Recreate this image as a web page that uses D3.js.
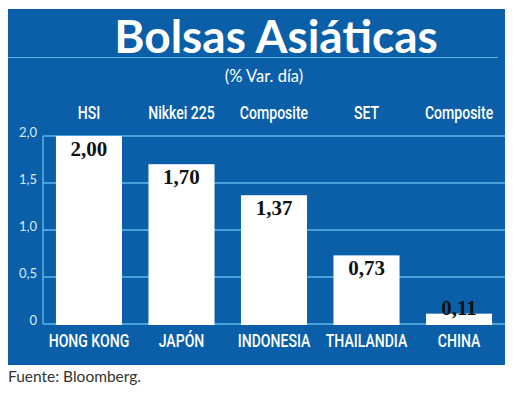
<!DOCTYPE html>
<html>
<head>
<meta charset="utf-8">
<script src="https://cdn.jsdelivr.net/npm/d3@7/dist/d3.min.js"></script>
<style>
  html, body { margin: 0; padding: 0; background: #fff; }
  svg { display: block; }
</style>
</head>
<body>
<div id="chart"></div>
<script>
// Data
const countries = ["HONG KONG", "JAPÓN", "INDONESIA", "THAILANDIA", "CHINA"]
const indices   = ["HSI", "Nikkei 225", "Composite", "SET", "Composite"]
const values    = [2.00, 1.70, 1.37, 0.73, 0.11]
const yTicks    = [0, 0.5, 1.0, 1.5, 2.0]

const W = 520, H = 404
const BLUE = "#0b5fa9"
const GRID = "#5db9ea"
const COND = "Roboto, 'Open Sans', sans-serif"

const fmt = (v, d) => v.toFixed(d).replace(".", ",")

const svg = d3.select("#chart").append("svg")
  .attr("width", W).attr("height", H)

// Panel
svg.append("rect")
  .attr("x", 8).attr("y", 9)
  .attr("width", 497).attr("height", 356)
  .attr("fill", BLUE)

// Title
svg.append("text")
  .attr("x", 276).attr("y", 53)
  .attr("text-anchor", "middle")
  .attr("font-family", "Lato, 'Open Sans', sans-serif")
  .attr("font-weight", 700)
  .attr("font-size", 46)
  .attr("fill", "#fff")
  .text("Bolsas Asiáticas")

svg.append("line")
  .attr("x1", 8).attr("x2", 498)
  .attr("y1", 57.5).attr("y2", 57.5)
  .attr("stroke", GRID).attr("stroke-width", 1.2)

svg.append("text")
  .attr("x", 264).attr("y", 82)
  .attr("text-anchor", "middle")
  .attr("font-family", "Lato, 'Open Sans', sans-serif")
  .attr("font-size", 16.5)
  .attr("fill", "#fff")
  .text("(% Var. día)")

// Scales
const x = d3.scaleBand()
  .domain(countries)
  .range([43, 505])
  .paddingInner(0.286)
  .paddingOuter(0.14)

const y = d3.scaleLinear()
  .domain([0, 2])
  .range([324, 136])

// Gridlines (behind bars)
svg.append("g")
  .selectAll("line")
  .data(yTicks)
  .join("line")
  .attr("x1", 43).attr("x2", 505)
  .attr("y1", d => y(d)).attr("y2", d => y(d))
  .attr("stroke", GRID)
  .attr("stroke-width", 1.4)

// Y axis line + labels
svg.append("line")
  .attr("x1", 43).attr("x2", 43)
  .attr("y1", y(2)).attr("y2", y(0))
  .attr("stroke", GRID).attr("stroke-width", 1.4)

svg.append("g")
  .selectAll("text")
  .data(yTicks)
  .join("text")
  .attr("x", 37)
  .attr("y", d => y(d) + 1)
  .attr("text-anchor", "end")
  .attr("font-family", "Lato, 'Open Sans', sans-serif")
  .attr("font-size", 13)
  .attr("fill", "#d6ecfa")
  .text(d => d === 0 ? "0" : fmt(d, 1))

// Bars
svg.append("g")
  .selectAll("rect")
  .data(values)
  .join("rect")
  .attr("x", (d, i) => x(countries[i]))
  .attr("y", d => y(d))
  .attr("width", x.bandwidth())
  .attr("height", d => y(0) - y(d) + 1)
  .attr("fill", "#fff")

// Value labels
svg.append("g")
  .selectAll("text")
  .data(values)
  .join("text")
  .attr("x", (d, i) => x(countries[i]) + x.bandwidth() / 2)
  .attr("y", d => (y(0) - y(d) > 25) ? y(d) + 20 : y(d) + 1)
  .attr("text-anchor", "middle")
  .attr("font-family", "'Liberation Serif', 'DejaVu Serif', serif")
  .attr("font-weight", 700)
  .attr("font-size", 21)
  .attr("fill", "#111")
  .text(d => fmt(d, 2))

// Condensed labels (index names on top, countries below)
function condensed(g, labels, yPos) {
  g.selectAll("g")
    .data(labels)
    .join("g")
    .attr("transform", (d, i) =>
      `translate(${x(countries[i]) + x.bandwidth() / 2},${yPos}) scale(0.74,1)`)
    .append("text")
    .attr("text-anchor", "middle")
    .attr("font-family", COND)
    .attr("font-weight", 500)
    .attr("font-size", 19)
    .attr("fill", "#fff")
    .text(d => d)
}

condensed(svg.append("g"), indices, 119)
condensed(svg.append("g"), countries, 347)

// Source
svg.append("text")
  .attr("x", 8).attr("y", 382)
  .attr("font-family", "Lato, 'Open Sans', sans-serif")
  .attr("font-size", 15.5)
  .attr("fill", "#333")
  .text("Fuente: Bloomberg.")
</script>
</body>
</html>
